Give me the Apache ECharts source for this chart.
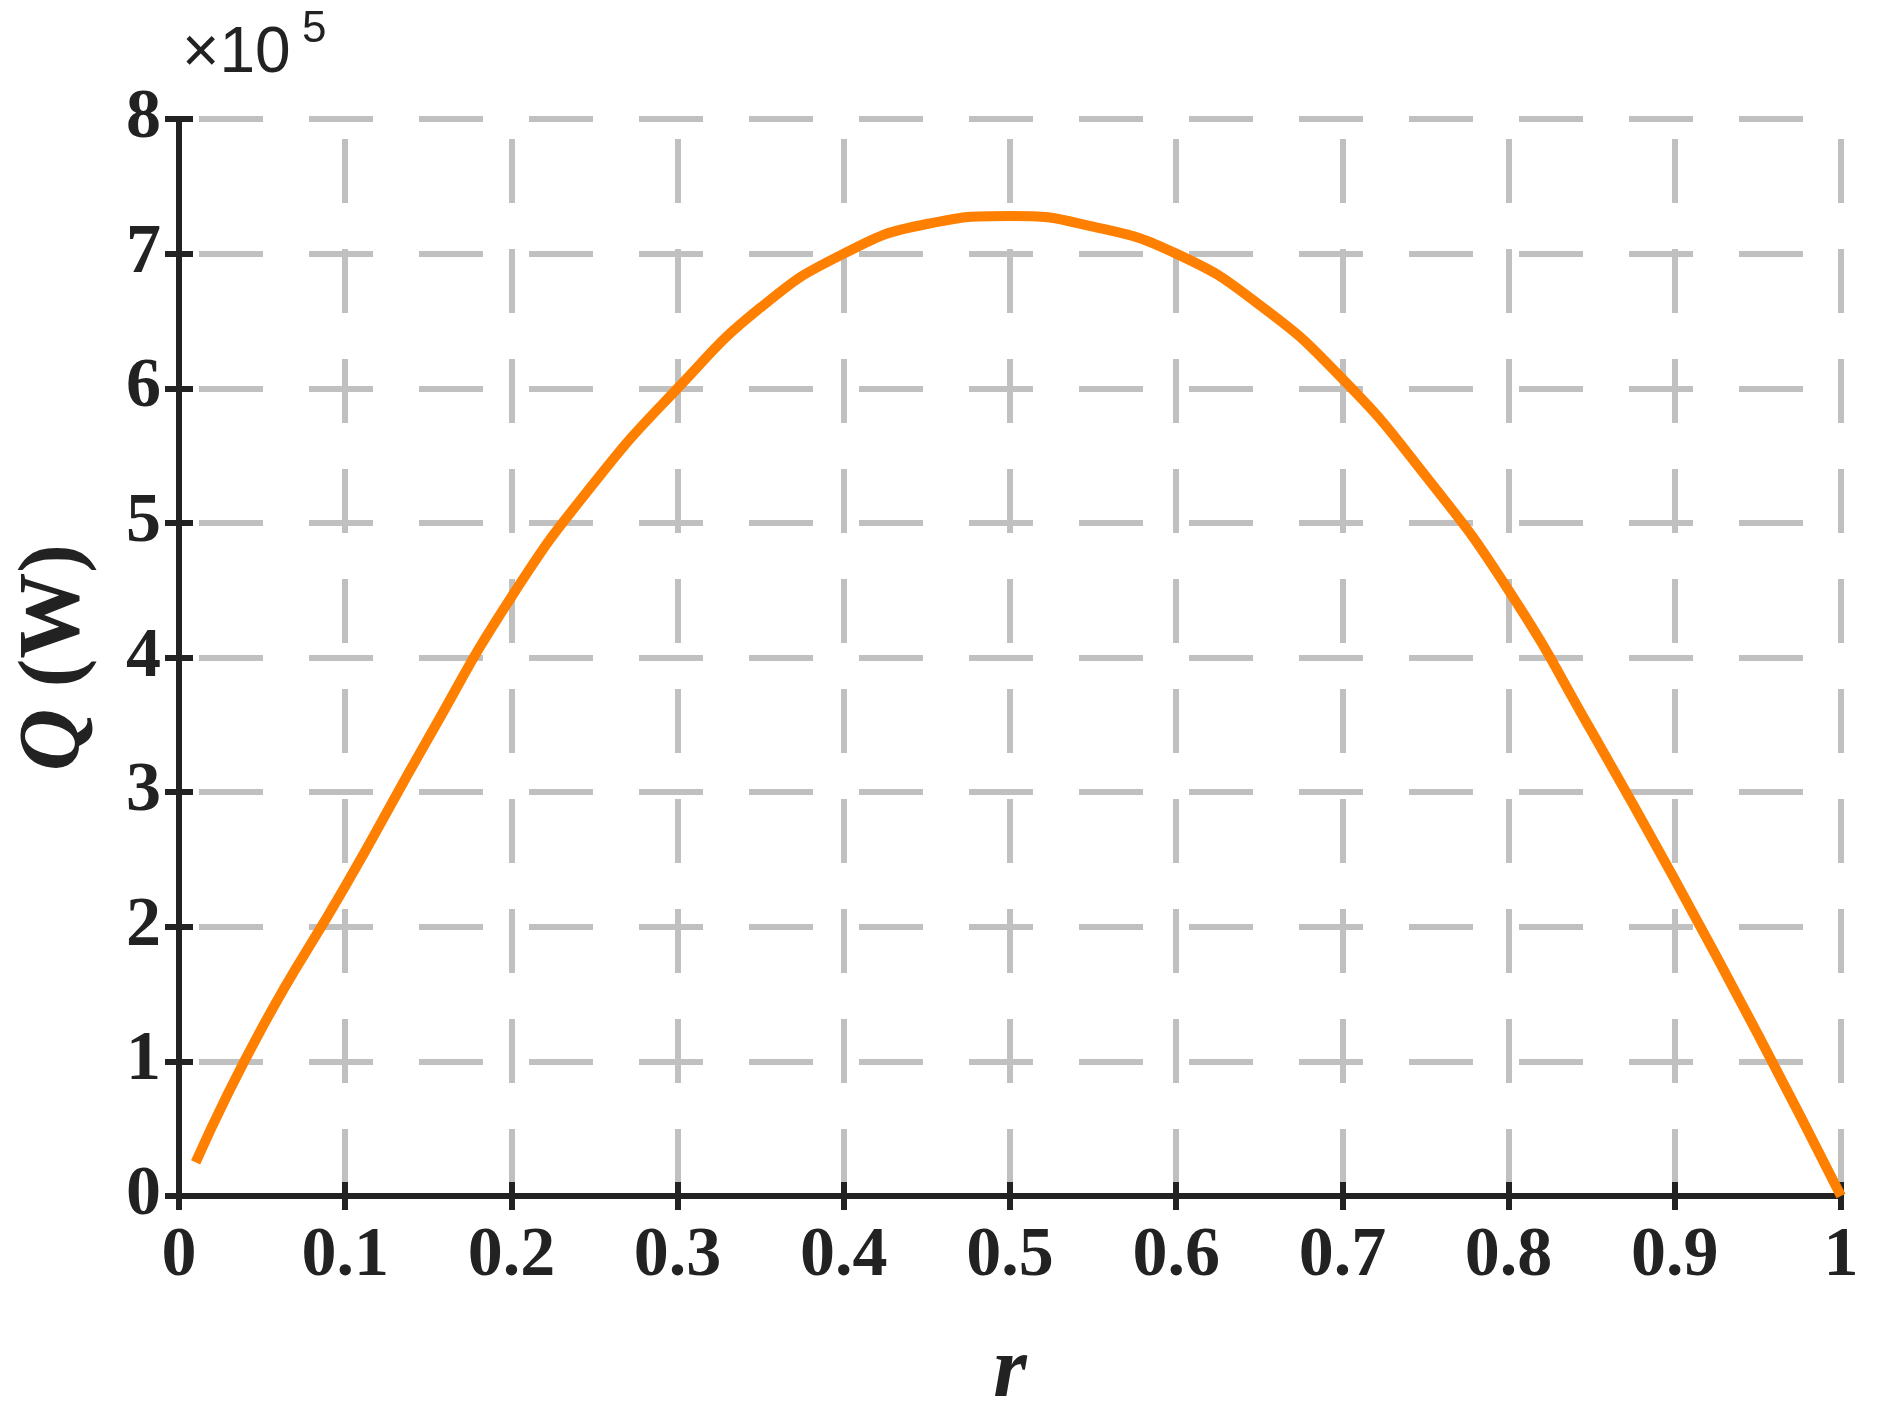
<!DOCTYPE html><html><head><meta charset="utf-8"><script src="https://cdn.jsdelivr.net/npm/echarts@6/dist/echarts.min.js"></script>
<style>body{margin:0;background:#fff}#c{width:1887px;height:1425px}</style></head><body><div id="c"></div><script>
const rValues=[0.01,0.05,0.1,0.15,0.2,0.25,0.3,0.35,0.4,0.45,0.5,0.55,0.6,0.65,0.7,0.75,0.8,0.85,0.9,0.95,1.0];
const qValues=[0.25,1.25,2.3,3.4,4.45,5.3,6.0,6.6,7.0,7.22,7.28,7.2,7.0,6.62,6.07,5.35,4.5,3.45,2.35,1.2,0.0];
const xTicks=[0,0.1,0.2,0.3,0.4,0.5,0.6,0.7,0.8,0.9,1];
const yTicks=[0,1,2,3,4,5,6,7,8];
const font='Liberation Serif';
const chart=echarts.init(document.getElementById('c'));
const lab={fontFamily:font,fontWeight:'bold',fontSize:70,color:'#222'};
const line={show:true,lineStyle:{color:'#222',width:6}};
const tick={inside:true,length:14,lineStyle:{color:'#222',width:6}};
const split={show:true,lineStyle:{color:'#c0c0c0',width:6,type:[64,46],dashOffset:-20}};
chart.setOption({
 animation:false,
 grid:{left:179,right:46,top:119,bottom:229},
 graphic:[{type:'text',left:182,top:22,style:{text:'×10',fontFamily:'Liberation Sans',fontSize:64,fill:'#222'}},
  {type:'text',left:302,top:8,style:{text:'5',fontFamily:'Liberation Sans',fontSize:44,fill:'#222'}}],
 xAxis:[{type:'value',min:0,max:1,interval:0.1,name:'r',nameLocation:'middle',nameGap:135,
   nameTextStyle:{fontFamily:font,fontStyle:'italic',fontWeight:'bold',fontSize:86,color:'#222'},
   axisLine:line,axisTick:tick,
   axisLabel:Object.assign({margin:26,formatter:v=>String(Math.round(v*10)/10)},lab),splitLine:split},
  {type:'value',position:'top',min:0,max:1,interval:0.1,axisLine:line,axisLabel:{show:false},
   axisTick:tick,splitLine:{show:false}}],
 yAxis:[{type:'value',min:0,max:8,interval:1,name:'{q|Q} (W)',nameLocation:'middle',nameGap:80,
   nameTextStyle:{fontFamily:font,fontWeight:'bold',fontSize:86,color:'#222',rich:{q:{fontFamily:font,fontStyle:'italic',fontWeight:'bold',fontSize:86,color:'#222'}}},
   axisLine:line,axisTick:tick,
   axisLabel:Object.assign({margin:18},lab),splitLine:split},
  {type:'value',position:'right',min:0,max:8,interval:1,axisLine:line,axisLabel:{show:false},
   axisTick:tick,splitLine:{show:false}}],
 series:[{type:'line',smooth:0.5,showSymbol:false,z:1,data:rValues.map((r,i)=>[r,qValues[i]]),lineStyle:{color:'#ff8000',width:10}}]
});
</script></body></html>
